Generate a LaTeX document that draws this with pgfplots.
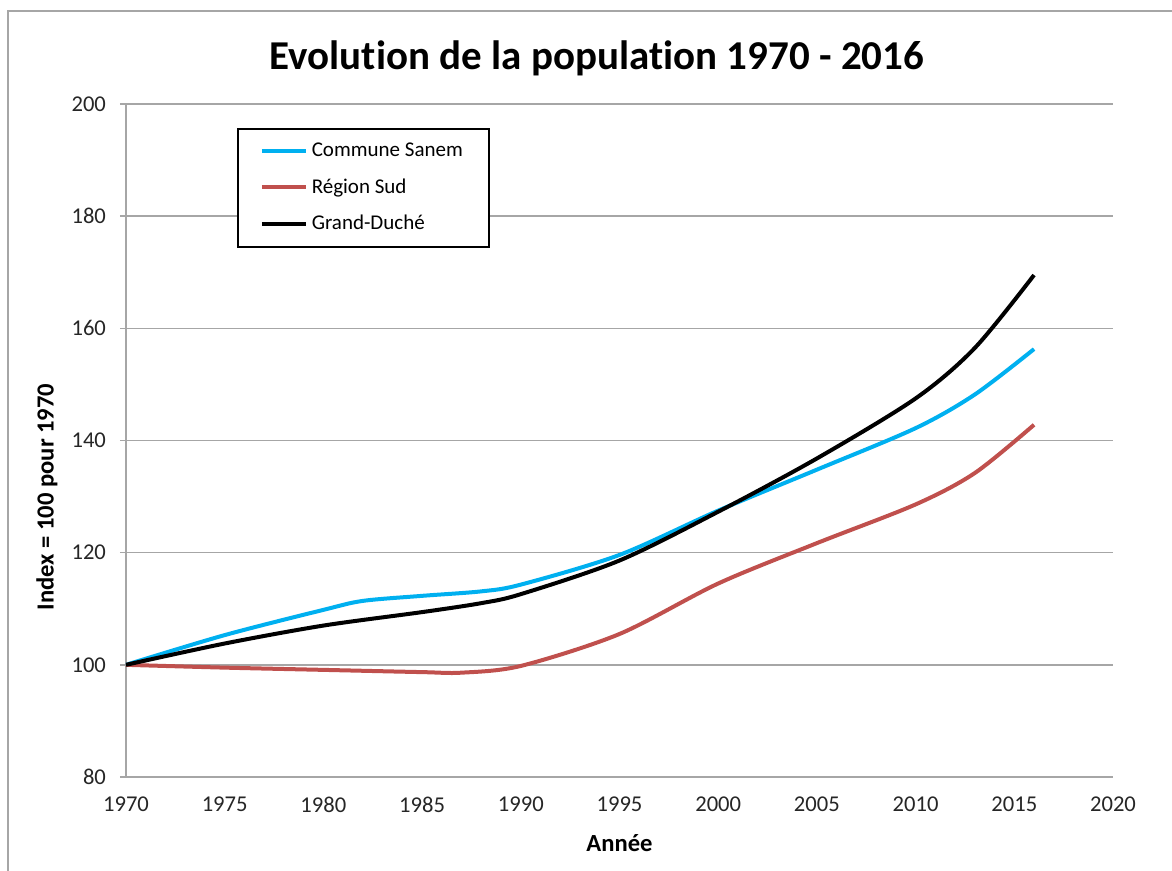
\documentclass[border=0pt]{standalone}
\usepackage{fontspec}
\setmainfont{Carlito}[Ligatures=NoCommon]
\usepackage{pgfplots}
\usepackage{pgfplotstable}
\pgfplotsset{compat=1.18}

\definecolor{sanem}{HTML}{00B0F0}
\definecolor{sud}{HTML}{C0504D}
\definecolor{gridgray}{HTML}{A6A6A6}

% index = 100 for 1970
\pgfplotstableread{
annee sanem
1970 100
1975 105.3
1980 109.8
1982 111.4
1985 112.3
1988 113.1
1990 114.3
1995 119.6
2000 127.5
2005 134.8
2010 142.2
2013 148.2
2016 156.3
}\sanem

\pgfplotstableread{
annee sud
1970 100
1975 99.5
1980 99.1
1985 98.7
1987 98.6
1990 99.8
1995 105.5
2000 114.5
2005 121.7
2010 128.6
2013 134.2
2016 142.8
}\sud

\pgfplotstableread{
annee gd
1970 100
1975 103.8
1980 107.0
1985 109.4
1988 111.0
1990 112.6
1995 118.6
2000 127.3
2005 136.8
2010 147.5
2013 156.5
2016 169.5
}\gd

\begin{document}
\begin{tikzpicture}[x=0.5pt,y=0.5pt]
% page = 1172 x 871 px of the reference, origin at the axis corner
\path[use as bounding box] (-126,-94) rectangle (1046,777);
\draw[gridgray, line width=1pt] (-118,-94) -- (-118,766) -- (1046,766);
\begin{axis}[
  at={(0,0)}, anchor=south west,
  scale only axis, width=493.5pt, height=336.5pt,
  xmin=1970, xmax=2020, ymin=80, ymax=200,
  xtick={1970,1975,...,2020}, ytick={80,100,...,200},
  axis lines=left,
  axis line style={gridgray, line width=0.75pt, -},
  ymajorgrids, grid style={gridgray, line width=0.75pt},
  tick align=outside, major tick length=3pt,
  xtick style={draw=none}, ytick style={gridgray, line width=0.75pt},
  ticklabel style={font=\fontsize{11.3}{13}\selectfont, text=black!85},
  yticklabel style={xshift=-3.5pt},
  xticklabel style={yshift=-3.5pt},
  /pgf/number format/assume math mode=true,
  /pgf/number format/1000 sep={},
  title={Evolution de la population 1970 - 2016},
  title style={at={(rel axis cs:0.477,1.050)}, anchor=center, yshift=0pt,
    font=\fontsize{20.5}{22}\selectfont\bfseries},
  xlabel={Année},
  xlabel style={at={(axis description cs:0.5,-0.098)}, anchor=center,
    font=\fontsize{12.3}{14}\selectfont\bfseries},
  ylabel={Index = 100 pour 1970},
  ylabel style={at={(axis description cs:-0.080,0.416)}, anchor=center,
    font=\fontsize{12.3}{14}\selectfont\bfseries},
  legend style={at={(axis description cs:0.1125,0.964)}, anchor=north west,
    draw=black, line width=0.75pt, inner xsep=11pt, inner ysep=5pt,
    font=\fontsize{10.5}{12}\selectfont, row sep=5.5pt},
  legend cell align=left,
  legend image code/.code={\draw[#1] (0pt,0pt) -- (22pt,0pt);},
  every axis plot/.append style={line width=2pt, smooth, tension=0.5},
]
\addplot[sanem] table[x=annee, y=sanem] {\sanem};
\addlegendentry{Commune Sanem}
\addplot[sud] table[x=annee, y=sud] {\sud};
\addlegendentry{Région Sud}
\addplot[black] table[x=annee, y=gd] {\gd};
\addlegendentry{Grand-Duché}
\end{axis}
\end{tikzpicture}
\end{document}
